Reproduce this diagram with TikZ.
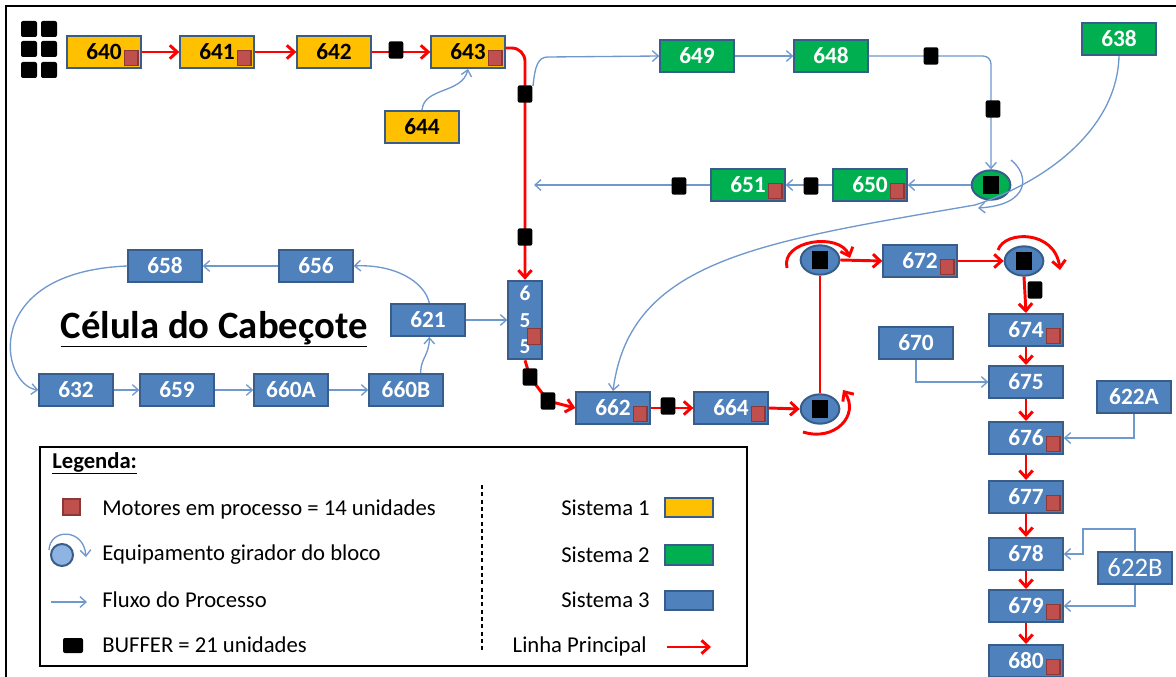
\documentclass[tikz,border=0pt]{standalone}
\usepackage{fontspec}
\setmainfont{Carlito}
\usetikzlibrary{arrows.meta,shapes.geometric}
\definecolor{sysyellow}{RGB}{255, 192, 0}
\definecolor{sysgreen}{RGB}{0, 176, 80}
\definecolor{sysblue}{RGB}{79, 129, 189}
\definecolor{boxline}{RGB}{56, 93, 138}
\definecolor{flowblue}{RGB}{111, 152, 204}
\definecolor{mainred}{RGB}{255, 0, 0}
\definecolor{motorfill}{RGB}{192, 80, 77}
\definecolor{motorline}{RGB}{140, 56, 54}
\definecolor{rotorlight}{RGB}{142, 180, 227}
\tikzset{
  box/.style={rectangle, draw=boxline, line width=1.5pt, minimum width=55pt, minimum height=24pt,
              inner sep=0pt, text=white, font=\bfseries\fontsize{17.5}{17.5}\selectfont},
  sys1/.style={box, fill=sysyellow, text=black},
  sys2/.style={box, fill=sysgreen},
  sys3/.style={box, fill=sysblue},
  motor/.style={path picture={\filldraw[fill=motorfill, draw=motorline, line width=1pt]
              ([shift={(-2pt,2pt)}]path picture bounding box.south east) rectangle ++(-10pt,11pt);}},
  buffer/.style={rectangle, fill=black, rounded corners=1.5pt, minimum width=11pt, minimum height=13pt, inner sep=0pt},
  rotor/.style={ellipse, draw=boxline, line width=1.5pt, fill=sysblue, minimum width=29pt, minimum height=22pt,
              inner sep=0pt, path picture={\fill[black] ([shift={(-6pt,-7pt)}]path picture bounding box.center) rectangle ++(12pt,14pt);}},
  flow/.style={draw=flowblue, line width=1pt, -{Straight Barb[length=4.5pt,width=8pt]}},
  mainline/.style={draw=mainred, line width=2.2pt, -{Straight Barb[length=5.5pt,width=10pt]}},
  legtext/.style={inner sep=0pt, font=\fontsize{17}{17}\selectfont},
}
\begin{document}
\begin{tikzpicture}[x=0.75pt, y=-0.75pt]
        \useasboundingbox (0,0) rectangle (1176,677);
        \draw[line width=1.8pt] (6,677) -- (6,6) -- (1176,6);
        % icon
        \foreach \gx in {29,49}
            \foreach \gy in {29,49,70}
                \fill[black, rounded corners=1.5pt] (\gx-8,\gy-8) rectangle (\gx+8,\gy+8);
        % sistema 1
        \node[sys1, motor] (b640) at ( 104, 52) {640};
        \node[sys1, motor] (b641) at ( 217, 52) {641};
        \node[sys1]        (b642) at ( 334, 52) {642};
        \node[sys1, motor] (b643) at ( 468, 52) {643};
        \node[sys1]        (b644) at ( 422,127) {644};
        % sistema 2
        \node[sys2]        (b649) at ( 697, 56) {649};
        \node[sys2]        (b648) at ( 831, 56) {648};
        \node[sys2]        (b638) at (1119, 39) {638};
        \node[sys2, motor] (b650) at ( 870,185) {650};
        \node[sys2, motor] (b651) at ( 748,185) {651};
        \node[rotor, fill=sysgreen] (rotA) at (991,185) {};
        % sistema 3
        \node[sys3]        (b658) at ( 165,266) {658};
        \node[sys3]        (b656) at ( 316,266) {656};
        \node[sys3]        (b621) at ( 428,320) {621};
        \node[sys3]        (b632) at (  76,390) {632};
        \node[sys3]        (b659) at ( 177,390) {659};
        \node[sys3]        (b660A) at (291,390) {660A};
        \node[sys3]        (b660B) at (406,390) {660B};
        \node[sys3, minimum width=25pt, minimum height=59pt, align=center,
              font=\bfseries\fontsize{16}{20}\selectfont] (b655) at (525,320) {6\\5\\5};
        \filldraw[fill=motorfill, draw=motorline, line width=1pt] ([shift={(-1.5pt,12pt)}]b655.south east) rectangle ++(-10pt,12pt);
        \node[sys3, motor] (b662) at ( 613,408) {662};
        \node[sys3, motor] (b664) at ( 731,408) {664};
        \node[sys3, motor] (b672) at ( 920,261) {672};
        \node[sys3]        (b670) at ( 916,343) {670};
        \node[sys3]        (b622A) at (1134,397) {622A};
        \node[sys3, font=\fontsize{20}{20}\selectfont] (b622B) at (1135,568) {622B};
        \node[sys3, motor] (b674) at (1026,330) {674};
        \node[sys3]        (b675) at (1026,382) {675};
        \node[sys3, motor] (b676) at (1026,438) {676};
        \node[sys3, motor] (b677) at (1026,497) {677};
        \node[sys3]        (b678) at (1026,554) {678};
        \node[sys3, motor] (b679) at (1026,606) {679};
        \node[sys3, motor] (b680) at (1026,661) {680};
        \node[rotor] (rotB) at (820,409) {};
        \node[rotor] (rotC) at (820,260) {};
        \node[rotor] (rotD) at (1024,261) {};
        \node[anchor=base, inner sep=0pt, font=\bfseries\fontsize{29}{29}\selectfont] (titulo) at (214,338) {\underline{Célula do Cabeçote}};
        % buffers
        \coordinate (cP) at ( 396, 50);
        \coordinate (cA) at ( 525, 94);
        \coordinate (cB) at ( 525,237);
        \coordinate (cE) at ( 530,377);
        \coordinate (cF) at ( 548,401);
        \coordinate (cG) at ( 668,406);
        \coordinate (cH) at ( 931, 56);
        \coordinate (cI) at ( 993,109);
        \coordinate (cJ) at ( 811,186);
        \coordinate (cK) at ( 679,186);
        \coordinate (cL) at (1035,290);
        \coordinate (jA) at ( 534,185);
        % linha principal
        \draw[mainline] (b640.east) -- (b641.west);
        \draw[mainline] (b641.east) -- (b642.west);
        \draw[mainline] (b642.east) -- (b643.west);
        \draw[mainline, rounded corners=10pt] ([yshift=3pt]b643.east) -| (b655.north);
        \draw[mainline] (b655.south) -- (cE) -- (cF) -- (b662.west);
        \draw[mainline] (b662.east) -- (b664.west);
        \draw[mainline] (b664.east) -- (rotB.west);
        \draw[mainline, -] (rotB.north) -- (rotC.south);
        \draw[mainline] (rotC.east) -- (b672.west);
        \draw[mainline] (b672.east) -- (rotD.west);
        \draw[mainline] (rotD.south) -- (b674.north);
        \foreach \a/\b in {674/675,675/676,676/677,677/678,678/679,679/680}
            \draw[mainline] (b\a.south) -- (b\b.north);
        \draw[mainline] ([shift={(-33,8)}]rotC.center) .. controls +(-7,-28) and +(-10,-26) .. ([shift={(30,-2)}]rotC.center);
        \draw[mainline] ([shift={(-17,23)}]rotB.center) .. controls +(32,10) and +(17,25) .. ([shift={(23,-19)}]rotB.center);
        \draw[mainline] ([shift={(-26,-11)}]rotD.center) .. controls +(7,-20) and +(-5,-40) .. ([shift={(36,9)}]rotD.center);
        % fluxo
        \draw[flow] (b644.north) .. controls +(2,-23) and +(-6,25) .. (b643.south);
        \draw[flow] ([shift={(6pt,6pt)}]cA) .. controls +(2,-20) and +(-10,0) .. (548,57) -- (b649.west);
        \draw[flow] (b649.east) -- (b648.west);
        \draw[flow, rounded corners=6pt] (b648.east) -| (rotA.north);
        \draw[flow] (rotA.west) -- (b650.east);
        \draw[flow] (b650.west) -- (b651.east);
        \draw[flow] (b651.west) -- (jA);
        \draw[flow] ([shift={(20,-25)}]rotA.center) .. controls +(19,15) and +(52,-3) .. ([shift={(-13,23)}]rotA.center);
        \draw[flow] (b638.south) .. controls (1117,130) and (1045,182) .. (975,205)
                                 .. controls (760,242) and (630,260) .. (b662.north);
        \draw[flow] ([xshift=1pt]b621.north) .. controls +(-5,-22) and +(40,-2) .. (b656.east);
        \draw[flow] (b656.west) -- (b658.east);
        \draw[flow] (b658.west) .. controls (-20,272) and (0,385) .. (b632.west);
        \draw[flow] (b632.east) -- (b659.west);
        \draw[flow] (b659.east) -- (b660A.west);
        \draw[flow] (b660A.east) -- (b660B.west);
        \draw[flow] ([xshift=11pt]b660B.north) .. controls +(0,-15) and +(0,18) .. ([xshift=1pt]b621.south);
        \draw[flow] (b621.east) -- (b655.west);
        \draw[flow] (b670.south) |- (b675.west);
        \draw[flow] (b622A.south) |- (b676.east);
        \draw[flow] (b622B.north) |- (1083,529) |- (b678.east);
        \draw[flow] (b622B.south) |- (b679.east);
        \foreach \c in {cP,cA,cB,cE,cF,cG,cH,cI,cJ,cK,cL}
            \node[buffer] (u\c) at (\c) {};
        % legenda
        \draw[line width=1pt] (40,447) rectangle (747,666);
        \node[legtext, anchor=base west, font=\bfseries\fontsize{17}{17}\selectfont] (legTitulo) at (52,468) {\underline{Legenda:}};
        \draw[line width=1pt, dash pattern=on 3pt off 2.5pt] (482,485) -- (482,653);
        \filldraw[fill=motorfill, draw=motorline, line width=1pt] (63,499) rectangle (80,515);
        \node[legtext, anchor=base west] (legMotor) at (102,515) {Motores em processo = 14 unidades};
        \filldraw[fill=rotorlight, draw=boxline, line width=1.5pt] (62,555) circle (11);
        \draw[flow] (49,550) .. controls (50,528) and (84,528) .. (86,557);
        \node[legtext, anchor=base west] (legRotor) at (102,560) {Equipamento girador do bloco};
        \draw[flow] (51,602) -- (87,602);
        \node[legtext, anchor=base west] (legFluxo) at (102,607) {Fluxo do Processo};
        \fill[black, rounded corners=1.5pt] (63,638) rectangle (83,653);
        \node[legtext, anchor=base west] (legBuffer) at (102,652) {BUFFER = 21 unidades};
        \node[legtext, anchor=base east] (legS1) at (650,515) {Sistema 1};
        \filldraw[fill=sysyellow, draw=boxline, line width=1.5pt] (665,498) rectangle (713,517);
        \node[legtext, anchor=base east] (legS2) at (650,562) {Sistema 2};
        \filldraw[fill=sysgreen, draw=boxline, line width=1.5pt] (665,545) rectangle (713,565);
        \node[legtext, anchor=base east] (legS3) at (650,607) {Sistema 3};
        \filldraw[fill=sysblue, draw=boxline, line width=1.5pt] (665,591) rectangle (713,610);
        \node[legtext, anchor=base east] (legLinha) at (647,652) {Linha Principal};
        \draw[mainline] (667,647) -- (711,647);
\end{tikzpicture}
\end{document}
